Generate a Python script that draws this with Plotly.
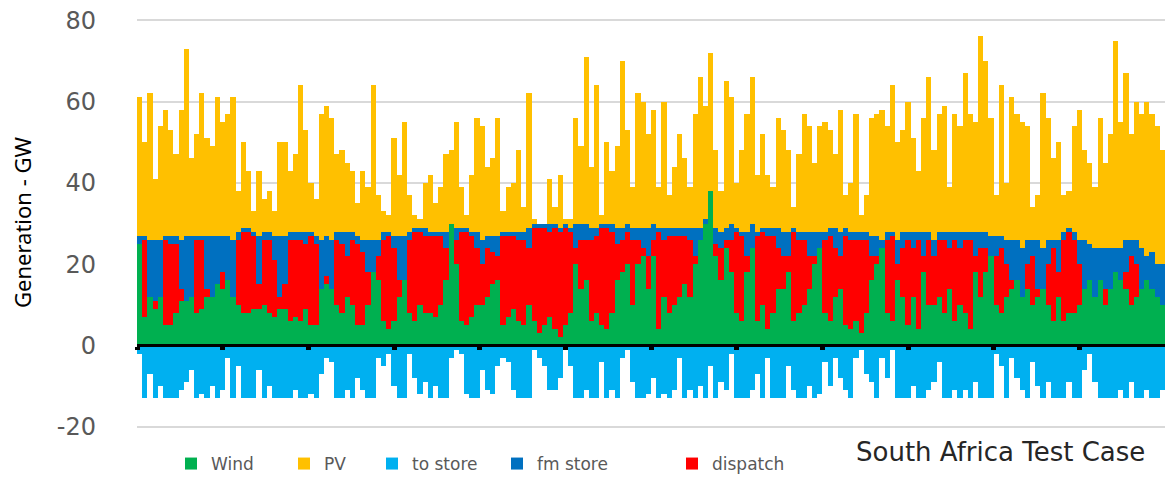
import plotly.graph_objects as go

months = ["Jan", "Feb", "Mar", "Apr", "May", "Jun",
          "Jul", "Aug", "Sep", "Oct", "Nov", "Dec"]

# top of each stacked bar (wind + dispatch + fm store + PV), GW
total = [
    61, 50, 62, 41, 54, 58, 53, 47, 58, 73, 46, 52, 62, 51, 49, 61, 55, 57, 61, 38, 50, 43, 33, 43, 36, 38, 33, 50, 50, 43, 47, 64, 53,
    40, 36, 57, 59, 56, 47, 48, 45, 43, 35, 43, 39, 64, 37, 33, 32, 51, 42, 55, 37, 32, 31, 40, 42, 35, 39, 47, 48, 55, 39, 32, 42, 56,
    54, 44, 46, 56, 33, 39, 40, 48, 34, 62, 31, 30, 30, 41, 34, 42, 31, 31, 56, 49, 71, 44, 64, 32, 50, 43, 49, 70, 53, 39, 62, 60, 52,
    58, 39, 60, 37, 44, 52, 46, 39, 57, 66, 59, 72, 48, 38, 65, 61, 40, 48, 57, 66, 42, 52, 42, 39, 56, 53, 48, 34, 47, 57, 54, 45, 54,
    55, 53, 47, 58, 37, 40, 57, 32, 37, 56, 57, 58, 54, 64, 50, 53, 60, 51, 43, 56, 66, 48, 57, 59, 39, 57, 54, 67, 57, 55, 76, 70, 56,
    37, 64, 40, 61, 57, 55, 54, 34, 37, 62, 56, 46, 50, 37, 38, 54, 58, 48, 45, 39, 56, 45, 52, 75, 55, 67, 52, 60, 57, 60, 57, 54, 48,
]

wind = [
    25, 7, 12, 9, 12, 5, 5, 8, 11, 11, 12, 8, 9, 12, 12, 15, 14, 16, 12, 10, 8, 8, 9, 9, 10, 8, 7, 9, 9, 6, 7, 6, 9,
    5, 5, 14, 15, 14, 10, 8, 12, 10, 5, 5, 10, 18, 16, 6, 4, 6, 12, 16, 8, 6, 10, 8, 8, 7, 10, 16, 30, 20, 6, 5, 7, 10,
    10, 12, 15, 16, 5, 7, 9, 6, 5, 10, 6, 3, 5, 7, 4, 2, 5, 8, 20, 14, 16, 6, 8, 5, 4, 8, 16, 18, 20, 10, 20, 22, 14,
    22, 4, 12, 8, 10, 12, 15, 12, 20, 26, 30, 38, 22, 16, 24, 18, 8, 6, 18, 24, 6, 10, 4, 8, 14, 14, 18, 6, 8, 10, 14, 20, 24,
    8, 6, 12, 14, 5, 4, 6, 3, 8, 16, 20, 24, 8, 6, 16, 12, 5, 12, 4, 18, 10, 10, 12, 8, 14, 6, 10, 8, 4, 18, 12, 18, 22,
    10, 8, 12, 14, 16, 12, 14, 10, 12, 14, 10, 6, 12, 6, 8, 8, 10, 14, 16, 12, 16, 10, 14, 18, 16, 14, 10, 12, 14, 16, 14, 12, 10,
]

dispatch = [
    0, 19, 0, 2, 0, 21, 20, 17, 3, 0, 0, 18, 17, 2, 0, 0, 4, 0, 0, 16, 20, 20, 18, 6, 16, 18, 14, 3, 6, 20, 19, 20, 16,
    22, 20, 0, 2, 0, 16, 17, 10, 16, 20, 18, 8, 0, 6, 20, 23, 18, 4, 0, 18, 22, 18, 19, 19, 20, 17, 8, 0, 6, 22, 23, 20, 14,
    10, 12, 8, 6, 22, 20, 18, 20, 21, 14, 23, 26, 24, 21, 25, 26, 24, 20, 4, 12, 10, 20, 19, 24, 25, 20, 9, 8, 8, 16, 6, 2, 8,
    4, 24, 14, 19, 17, 15, 12, 14, 2, 0, 0, 0, 3, 8, 2, 8, 20, 21, 4, 0, 21, 18, 23, 19, 10, 8, 4, 22, 18, 16, 8, 2, 0,
    18, 21, 12, 8, 22, 22, 20, 23, 18, 6, 2, 0, 18, 21, 4, 12, 21, 12, 22, 4, 16, 12, 14, 18, 10, 20, 14, 18, 22, 4, 12, 6, 0,
    12, 16, 8, 2, 0, 0, 6, 12, 2, 0, 10, 18, 6, 20, 20, 18, 10, 0, 0, 0, 0, 4, 0, 0, 0, 4, 12, 8, 0, 0, 0, 0, 0,
]

fm_store = [
    2, 1, 14, 15, 14, 1, 2, 2, 12, 16, 15, 1, 1, 13, 15, 12, 9, 11, 14, 2, 1, 1, 1, 12, 2, 2, 6, 15, 12, 2, 2, 2, 3,
    1, 2, 12, 10, 12, 2, 3, 6, 2, 2, 3, 8, 8, 4, 2, 1, 3, 11, 11, 2, 1, 1, 2, 1, 1, 1, 4, 0, 3, 1, 1, 1, 4,
    6, 3, 4, 5, 1, 1, 1, 2, 2, 5, 1, 1, 1, 2, 1, 1, 1, 1, 6, 4, 4, 3, 2, 1, 1, 2, 4, 3, 2, 3, 3, 5, 7,
    4, 1, 3, 2, 2, 2, 2, 3, 7, 3, 1, 0, 4, 4, 3, 4, 1, 1, 6, 6, 1, 1, 2, 2, 5, 6, 6, 1, 2, 2, 6, 6, 4,
    2, 2, 5, 6, 2, 2, 2, 2, 2, 5, 5, 2, 2, 1, 6, 4, 2, 4, 2, 6, 2, 4, 2, 2, 4, 2, 4, 2, 2, 6, 4, 4, 5,
    5, 3, 6, 10, 10, 12, 6, 4, 12, 10, 6, 2, 8, 2, 1, 2, 6, 12, 9, 12, 8, 10, 10, 6, 8, 8, 4, 6, 10, 6, 9, 8, 10,
]

to_store = [
    -2, -13, -7, -13, -10, -13, -13, -13, -11, -9, -6, -13, -12, -13, -10, -13, -11, -3, -13, -5, -13, -13, -13, -6, -13, -10, -13, -13, -13, -13, -11, -13, -13,
    -12, -13, -7, -3, -4, -13, -13, -11, -13, -8, -11, -13, -13, -3, -5, -2, -10, -13, -13, -2, -8, -12, -9, -13, -10, -13, -13, -3, -1, -2, -12, -13, -13,
    -6, -11, -12, -5, -3, -4, -11, -13, -13, -13, -1, -3, -5, -11, -11, -8, -1, -5, -13, -13, -11, -13, -13, -4, -13, -11, -13, -3, -1, -9, -13, -13, -12,
    -8, -13, -12, -13, -11, -3, -13, -11, -13, -10, -13, -5, -13, -9, -11, -2, -13, -13, -13, -11, -7, -13, -3, -13, -13, -13, -5, -11, -13, -13, -10, -13, -12,
    -4, -10, -3, -8, -11, -13, -3, -1, -7, -9, -13, -3, -8, -1, -13, -13, -13, -10, -13, -13, -11, -9, -4, -13, -13, -11, -13, -11, -13, -9, -13, -13, -13,
    -2, -5, -13, -3, -8, -11, -13, -4, -10, -13, -9, -13, -13, -13, -9, -13, -13, -6, -2, -9, -13, -13, -13, -13, -11, -13, -9, -13, -13, -11, -13, -13, -11,
]

y_ticks = [-20, 0, 20, 40, 60, 80]

hours = list(range(len(total)))
pv = [max(t - w - d - f, 0) for t, w, d, f in zip(total, wind, dispatch, fm_store)]

y_lo, y_hi = -20.3, 80.3
per_month = len(hours) / len(months)

fig = go.Figure()

# stacking order: wind, dispatch, fm store, PV on top; to store below zero
series = [
    ("Wind", wind, "#00B050", "legend", 195),
    ("dispatch", dispatch, "#FF0000", "legend5", 696),
    ("fm store", fm_store, "#0070C0", "legend4", 521),
    ("PV", pv, "#FFC000", "legend2", 308),
    ("to store", to_store, "#00B0F0", "legend3", 396),
]

legends = {}
for name, vals, color, leg, sym_x in series:
    fig.add_trace(go.Bar(
        x=hours, y=vals, name=name, legend=leg,
        marker=dict(color=color, line=dict(width=0)),
    ))
    legends[leg] = dict(
        xref="container", yref="container",
        x=(sym_x - 24) / 1172, y=1 - 464 / 477,
        xanchor="left", yanchor="middle",
        bgcolor="rgba(0,0,0,0)",
        font=dict(family="DejaVu Sans", size=17, color="#595959"),
    )

fig.update_layout(
    width=1172,
    height=477,
    barmode="relative",
    bargap=0,
    plot_bgcolor="white",
    paper_bgcolor="white",
    margin=dict(l=137, r=7, t=19, b=49, autoexpand=False),
    showlegend=True,
    **legends,
)

fig.update_xaxes(
    range=[-0.5, len(hours) - 0.5],
    anchor="free",
    position=(0 - y_lo) / (y_hi - y_lo),
    showline=True, linecolor="black", linewidth=3,
    ticks="outside", ticklen=3, tickwidth=5, tickcolor="black",
    tickvals=[i * per_month - 0.5 for i in range(len(months))],
    showticklabels=False,
    showgrid=False,
    zeroline=False,
    layer="above traces",
)

fig.update_yaxes(
    range=[y_lo, y_hi],
    tickvals=y_ticks,
    ticktext=[str(v) for v in y_ticks],
    showgrid=True, gridcolor="#d9d9d9", gridwidth=1.5,
    zeroline=False,
    ticklabelstandoff=40,
    tickfont=dict(family="DejaVu Sans", size=24, color="#595959"),
)

fig.add_annotation(
    text="Generation - GW",
    xref="paper", yref="paper",
    x=(22 - 137) / 1028, y=(428 - 223) / 409,
    xanchor="center", yanchor="middle",
    textangle=-90,
    showarrow=False,
    font=dict(family="Noto Sans", size=22, color="black"),
)

fig.add_annotation(
    text="South Africa Test Case",
    xref="paper", yref="paper",
    x=(1000 - 137) / 1028, y=(428 - 452) / 409,
    xanchor="center", yanchor="middle",
    showarrow=False,
    font=dict(family="DejaVu Sans", size=26, color="#262626"),
)

fig.write_html(
    "out.html",
    config={"displayModeBar": False},
    post_script="document.body.style.margin = '0';",
)
